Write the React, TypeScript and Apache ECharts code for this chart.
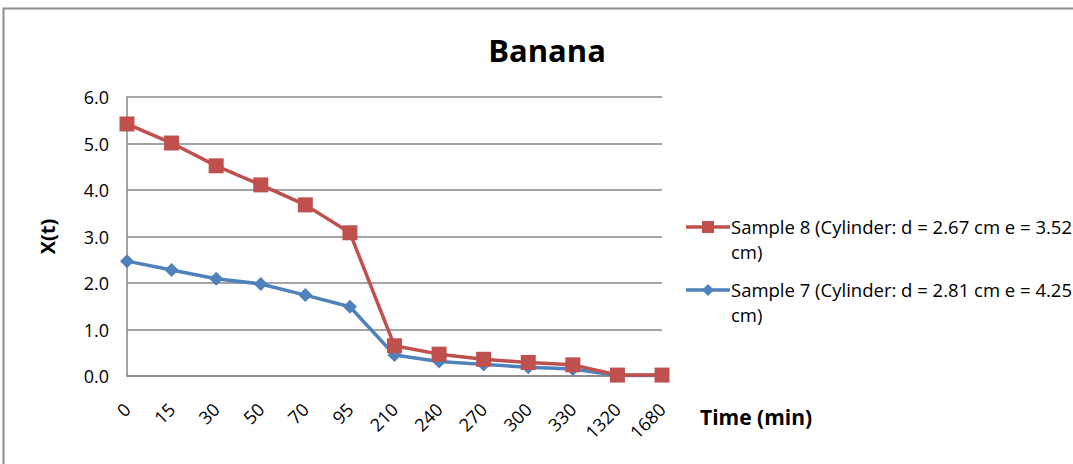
import React, { useEffect, useRef } from "react";
import * as echarts from "echarts";

const categories = ["0", "15", "30", "50", "70", "95", "210", "240", "270", "300", "330", "1320", "1680"];
const sample8 = [5.42, 5.01, 4.52, 4.11, 3.68, 3.08, 0.65, 0.47, 0.36, 0.29, 0.24, 0.02, 0.02];
const sample7 = [2.47, 2.28, 2.09, 1.98, 1.74, 1.49, 0.45, 0.31, 0.25, 0.19, 0.15, 0.01, 0.01];
const seriesNames = [
  "Sample 8 (Cylinder: d = 2.67 cm e = 3.52 cm)",
  "Sample 7 (Cylinder: d = 2.81 cm e = 4.25 cm)",
];
const yTicks = [0, 1, 2, 3, 4, 5, 6];

const RED = "#C0504D";
const BLUE = "#4F81BD";
const FONT = "Open Sans";

export default function App() {
  const ref = useRef<HTMLDivElement>(null);
  useEffect(() => {
    const chart = echarts.init(ref.current!, undefined, { renderer: "svg" });
    const splitName = (s: string) => {
      const i = s.lastIndexOf(" cm)");
      return [s.slice(0, i), s.slice(i + 1)];
    };
    const legendItem = (name: string, color: string, y: number, symbol: "square" | "diamond") => {
      const [l1, l2] = splitName(name);
      const marker =
        symbol === "square"
          ? { type: "rect", shape: { x: 702, y: y - 6, width: 12, height: 12 }, style: { fill: color } }
          : {
              type: "polygon",
              shape: { points: [[708, y - 6], [714, y], [708, y + 6], [702, y]] },
              style: { fill: color },
            };
      return [
        { type: "line", shape: { x1: 686, y1: y, x2: 730, y2: y }, style: { stroke: color, lineWidth: 3.5 } },
        marker,
        {
          type: "text",
          x: 731,
          y: y - 13,
          style: {
            text: l1 + "\n" + l2,
            font: `18.5px ${FONT}`,
            fill: "#000",
            verticalAlign: "top",
            lineHeight: 25,
          },
        },
      ];
    };
    chart.setOption({
      animation: false,
      title: {
        text: "Banana",
        left: 542,
        top: 29,
        textAlign: "center",
        textStyle: { fontFamily: FONT, fontSize: 31, fontWeight: "bold", color: "#000" },
      },
      grid: { left: 127, right: 411, top: 97, bottom: 88, containLabel: false },
      xAxis: {
        type: "category",
        data: categories,
        boundaryGap: false,
        axisLine: { lineStyle: { color: "#868686", width: 1.5 } },
        axisTick: { show: false },
        axisLabel: { rotate: 45, fontFamily: FONT, fontSize: 18, color: "#000", margin: 30 },
      },
      yAxis: {
        type: "value",
        min: yTicks[0],
        max: yTicks[yTicks.length - 1],
        interval: 1,
        name: "X(t)",
        nameLocation: "middle",
        nameGap: 70,
        nameRotate: 90,
        nameTextStyle: { fontFamily: FONT, fontSize: 20, fontWeight: "bold", color: "#000" },
        axisLine: { show: true, lineStyle: { color: "#868686", width: 1.5 } },
        axisTick: { show: false },
        splitLine: { lineStyle: { color: "#868686", width: 1.5 } },
        axisLabel: {
          fontFamily: FONT,
          fontSize: 18,
          color: "#000",
          margin: 18,
          formatter: (v: number) => v.toFixed(1),
        },
      },
      series: [
        {
          name: seriesNames[0],
          type: "line",
          data: sample8,
          symbol: "rect",
          symbolSize: 15,
          lineStyle: { color: RED, width: 3.5 },
          itemStyle: { color: RED },
          z: 3,
        },
        {
          name: seriesNames[1],
          type: "line",
          data: sample7,
          symbol: "diamond",
          symbolSize: 14,
          lineStyle: { color: BLUE, width: 3.5 },
          itemStyle: { color: BLUE },
          z: 2,
        },
      ],
      graphic: [
        {
          type: "rect",
          shape: { x: 3.5, y: 8.5, width: 1100, height: 500 },
          style: { fill: "none", stroke: "#8c8c8c", lineWidth: 2 },
          silent: true,
        },
        {
          type: "text",
          x: 700,
          y: 406,
          style: { text: "Time (min)", font: `bold 21px ${FONT}`, fill: "#000" },
        },
        ...legendItem(seriesNames[0], RED, 227, "square"),
        ...legendItem(seriesNames[1], BLUE, 290, "diamond"),
      ],
    });
    return () => chart.dispose();
  }, []);
  return (
    <div
      ref={ref}
      style={{ position: "absolute", left: 0, top: 0, width: 1073, height: 464, background: "#fff" }}
    />
  );
}
